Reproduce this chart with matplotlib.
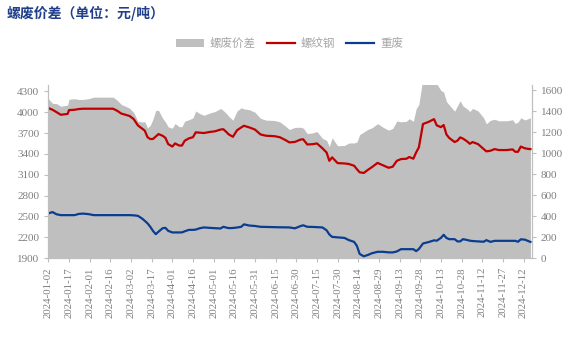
import matplotlib
matplotlib.use("Agg")
import matplotlib.pyplot as plt
import matplotlib.dates as mdates
import numpy as np
import pandas as pd

dates = [
    "2024-01-02", "2024-01-05", "2024-01-08", "2024-01-11", "2024-01-14", "2024-01-16",
    "2024-01-17", "2024-01-21", "2024-01-24", "2024-01-27", "2024-01-31", "2024-02-04",
    "2024-02-11", "2024-02-18", "2024-02-21", "2024-02-24", "2024-02-27", "2024-03-01",
    "2024-03-04", "2024-03-07", "2024-03-10", "2024-03-12", "2024-03-14", "2024-03-16",
    "2024-03-18", "2024-03-20", "2024-03-22", "2024-03-25", "2024-03-27", "2024-03-29",
    "2024-04-01", "2024-04-03", "2024-04-06", "2024-04-08", "2024-04-10", "2024-04-13",
    "2024-04-16", "2024-04-18", "2024-04-21", "2024-04-24", "2024-04-28", "2024-05-02",
    "2024-05-06", "2024-05-08", "2024-05-10", "2024-05-12", "2024-05-15", "2024-05-18",
    "2024-05-21", "2024-05-23", "2024-05-27", "2024-05-31", "2024-06-04", "2024-06-08",
    "2024-06-14", "2024-06-18", "2024-06-22", "2024-06-25", "2024-06-29", "2024-07-03",
    "2024-07-05", "2024-07-08", "2024-07-12", "2024-07-15", "2024-07-19", "2024-07-22",
    "2024-07-24", "2024-07-26", "2024-07-30", "2024-08-04", "2024-08-07", "2024-08-11",
    "2024-08-13", "2024-08-15", "2024-08-18", "2024-08-21", "2024-08-24", "2024-08-28",
    "2024-09-01", "2024-09-05", "2024-09-08", "2024-09-11", "2024-09-14", "2024-09-18",
    "2024-09-20", "2024-09-23", "2024-09-25", "2024-09-27", "2024-09-30", "2024-10-04",
    "2024-10-08", "2024-10-10", "2024-10-13", "2024-10-15", "2024-10-17", "2024-10-19",
    "2024-10-23", "2024-10-25", "2024-10-27", "2024-10-29", "2024-11-01", "2024-11-03",
    "2024-11-05", "2024-11-09", "2024-11-13", "2024-11-15", "2024-11-18", "2024-11-21",
    "2024-11-24", "2024-11-30", "2024-12-04", "2024-12-06", "2024-12-08", "2024-12-10",
    "2024-12-13", "2024-12-16", "2024-12-17",
]

rebar = [
    4060, 4035, 4000, 3963, 3970, 3975,
    4030, 4035, 4045, 4050, 4050, 4050,
    4050, 4050, 4020, 3980, 3963, 3945,
    3900, 3810, 3765, 3735, 3640, 3613,
    3615, 3650, 3685, 3660, 3630, 3541,
    3505, 3550, 3520, 3520, 3589, 3623,
    3640, 3710, 3705, 3700, 3715, 3725,
    3750, 3755, 3720, 3680, 3646, 3740,
    3780, 3805, 3780, 3750, 3680, 3661,
    3655, 3640, 3600, 3565, 3572, 3605,
    3610, 3535, 3540, 3550, 3480, 3420,
    3300, 3350, 3267, 3262, 3255, 3229,
    3180, 3135, 3125, 3170, 3210, 3270,
    3235, 3200, 3215, 3300, 3325, 3330,
    3355, 3330, 3420, 3493, 3830, 3860,
    3900, 3810, 3785, 3815, 3680, 3630,
    3570, 3590, 3637, 3620, 3580, 3545,
    3570, 3540, 3470, 3436, 3445, 3469,
    3455, 3455, 3465, 3430, 3430, 3505,
    3480, 3470, 3469,
]

scrap = [
    2543, 2562, 2530, 2518, 2518, 2518,
    2518, 2518, 2535, 2540, 2533, 2518,
    2518, 2518, 2518, 2518, 2518, 2518,
    2515, 2508, 2470, 2436, 2400, 2350,
    2290, 2244, 2280, 2330, 2335, 2292,
    2269, 2269, 2269, 2270, 2285, 2306,
    2306, 2310, 2330, 2341, 2335, 2330,
    2326, 2350, 2340, 2331, 2333, 2340,
    2350, 2385, 2368, 2362, 2350, 2348,
    2345, 2343, 2342, 2341, 2328, 2360,
    2372, 2350, 2348, 2345, 2341, 2300,
    2240, 2205, 2198, 2190, 2160, 2133,
    2076, 1960, 1925, 1945, 1970, 1990,
    1990, 1982, 1981, 1995, 2028, 2028,
    2028, 2028, 2000, 2030, 2110, 2130,
    2155, 2150, 2190, 2235, 2190, 2172,
    2172, 2140, 2140, 2172, 2160, 2150,
    2145, 2140, 2135, 2158, 2133, 2148,
    2148, 2148, 2148, 2148, 2135, 2170,
    2165, 2140, 2133,
]

x = pd.to_datetime(dates)
spread = np.array(rebar) - np.array(scrap)

gray_txt = "#7f7f7f"
plt.rcParams["font.family"] = ["Liberation Serif", "Noto Sans CJK SC"]

fig = plt.figure(figsize=(5.79, 3.54), dpi=100)
ax = fig.add_axes([0.0835, 0.271, 0.835, 0.489])
ax2 = ax.twinx()

# spread area on the right axis, lines on the left axis drawn above it
ax2.fill_between(x, 0, spread, color="#bfbfbf", lw=0, label="螺废价差")
ax.set_zorder(ax2.get_zorder() + 1)
ax.patch.set_visible(False)
ax.plot(x, rebar, color="#c00000", lw=1.6, label="螺纹钢")
ax.plot(x, scrap, color="#0a3d8f", lw=1.6, label="重废")

start = pd.Timestamp("2024-01-02")
ax.set_xlim(start, start + pd.Timedelta(days=351))
ax.set_ylim(1900, 4392)
ax2.set_ylim(0, 1648)
ax.set_yticks(np.arange(1900, 4301, 300))
ax2.set_yticks(np.arange(0, 1601, 200))
ax.set_xticks(pd.date_range("2024-01-02", "2024-12-12", freq="15D"))
ax.xaxis.set_major_formatter(mdates.DateFormatter("%Y-%m-%d"))

for a in (ax, ax2):
    for s in a.spines.values():
        s.set_color("#bfbfbf")
    a.spines["top"].set_visible(False)
    a.tick_params(colors=gray_txt, labelsize=8, length=3, width=0.8)
    a.tick_params(axis="both", color="#bfbfbf")
ax.tick_params(axis="x", rotation=90, labelsize=7.8)

fig.text(0.012, 0.962, "螺废价差（单位：元/吨）", family="Noto Sans CJK SC",
         fontsize=10, fontweight="bold", color="#1f3f8a", va="center")

h1, l1 = ax2.get_legend_handles_labels()
h2, l2 = ax.get_legend_handles_labels()
leg = fig.legend(h1 + h2, l1 + l2, loc="center", bbox_to_anchor=(0.5, 0.878),
                 ncol=3, frameon=False, prop={"family": "Noto Sans CJK SC", "size": 8.3},
                 handlelength=2.4, columnspacing=1.0, handletextpad=0.5)
for t in leg.get_texts():
    t.set_color("#a6a6a6")

fig.savefig("out.png", dpi=100)
